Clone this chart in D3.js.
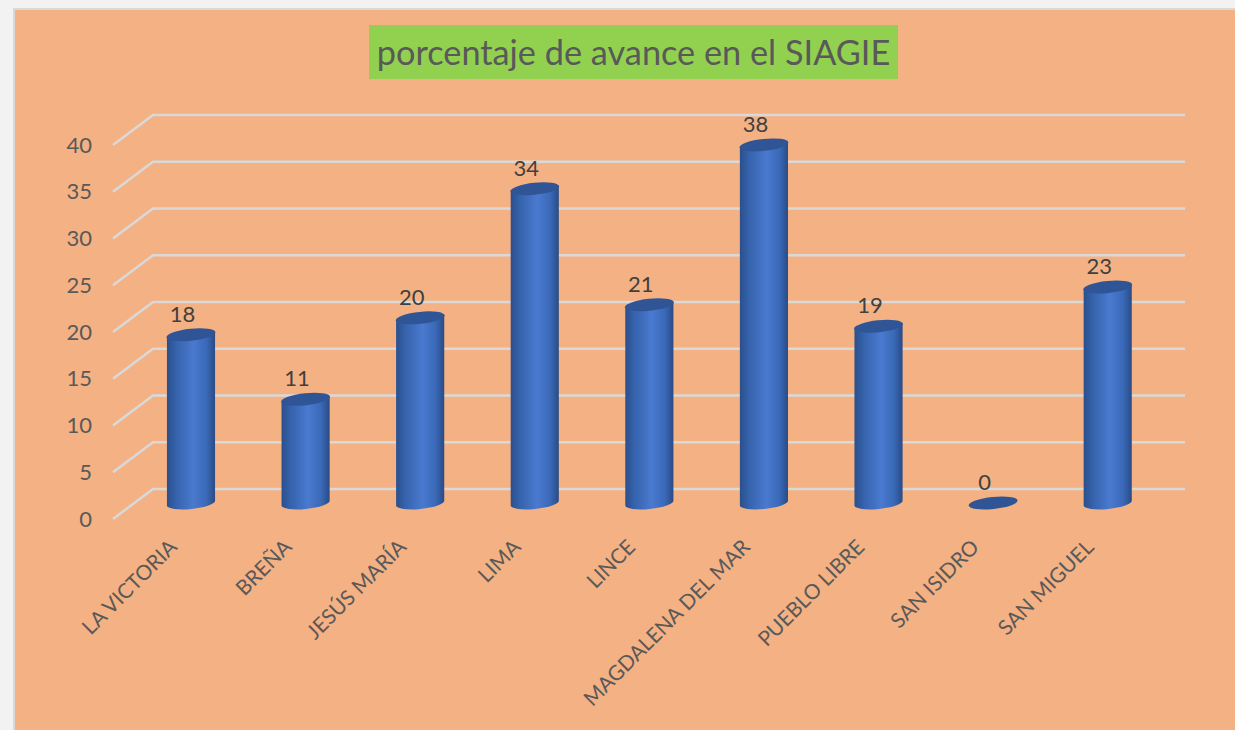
<!DOCTYPE html>
<html lang="es">
<head>
<meta charset="UTF-8">
<title>porcentaje de avance en el SIAGIE</title>
<script src="https://d3js.org/d3.v7.min.js"></script>
<style>
    html, body { margin: 0; padding: 0; background: #f2f2f2; overflow: hidden; }
    svg { display: block; }
    text { font-family: Lato, sans-serif; }
    .axis path.domain, .axis line { display: none; }
    .axis text { font-family: Lato, sans-serif; fill: #595959; }
</style>
</head>
<body>
<svg width="1235" height="730"></svg>
<script>
const chartTitle = "porcentaje de avance en el SIAGIE";
const categories = ["LA VICTORIA", "BREÑA", "JESÚS MARÍA", "LIMA", "LINCE", "MAGDALENA DEL MAR", "PUEBLO LIBRE", "SAN ISIDRO", "SAN MIGUEL"];
const values = [18, 11.1, 19.8, 33.6, 21.2, 38.3, 18.9, 0, 23.1];
const yTicks = [0, 5, 10, 15, 20, 25, 30, 35, 40];

const svg = d3.select("svg");

// panel
svg.append("rect")
    .attr("x", 14).attr("y", 9)
    .attr("width", 1240).attr("height", 740)
    .attr("fill", "#f4b183")
    .attr("stroke", "#d9d9d9")
    .attr("stroke-width", 2);

// title
svg.append("rect")
    .attr("x", 369).attr("y", 25)
    .attr("width", 529).attr("height", 54)
    .attr("fill", "#92d050");

svg.append("text")
    .attr("x", 633.5).attr("y", 65)
    .attr("text-anchor", "middle")
    .attr("font-size", 34.3)
    .attr("fill", "#595959")
    .text(chartTitle);

// y is the back wall, the floor comes forward and down from it
const y = d3.scaleLinear().domain([0, 40]).range([489, 115]);
const x = d3.scaleBand().domain(categories).range([133.7, 1165]);

const depthX = 40, depthY = 30;
const wallLeft = 153, wallRight = 1185;

const gridLine = d3.line();
svg.append("g")
    .selectAll("path")
    .data(yTicks)
    .join("path")
    .attr("fill", "none")
    .attr("stroke", "#d9d9d9")
    .attr("stroke-width", 2.5)
    .attr("d", d => gridLine([
        [wallLeft - depthX, y(d) + depthY],
        [wallLeft, y(d)],
        [wallRight, y(d)]
    ]));

// axes
svg.append("g")
    .attr("class", "axis")
    .attr("transform", "translate(92,30)")
    .call(d3.axisLeft(y).tickValues(yTicks).tickSize(0).tickPadding(0))
    .selectAll("text")
    .style("font-size", "22px");

svg.append("g")
    .attr("class", "axis")
    .attr("transform", "translate(0,530)")
    .call(d3.axisBottom(x).tickSize(0).tickPadding(0))
    .selectAll("text")
    .style("font-size", "20.8px")
    .attr("text-anchor", "end")
    .attr("dx", -22)
    .attr("dy", 4)
    .attr("transform", "rotate(-45)");

// cylinders
const defs = svg.append("defs");
const grad = defs.append("linearGradient").attr("id", "cyl");
grad.append("stop").attr("offset", "0%").attr("stop-color", "#2b4f8c");
grad.append("stop").attr("offset", "18%").attr("stop-color", "#3562ab");
grad.append("stop").attr("offset", "55%").attr("stop-color", "#4a7ad0");
grad.append("stop").attr("offset", "82%").attr("stop-color", "#3a69b8");
grad.append("stop").attr("offset", "100%").attr("stop-color", "#2a4b85");

const barW = x.bandwidth() * 0.42;
const rx = barW / 2, ry = 6, tilt = -6;
const floorShift = 14;  // ellipse centre sits this far under the wall position
const rise = rx * Math.sin(tilt * Math.PI / 180) * -1;

const bars = svg.append("g")
    .selectAll("g")
    .data(categories.map((c, i) => ({ c, v: values[i] })))
    .join("g")
    .attr("transform", d => `translate(${x(d.c) + x.bandwidth() / 2},0)`);

bars.filter(d => d.v > 0).append("path")
    .attr("fill", "url(#cyl)")
    .attr("d", d => {
        const base = y(0) + floorShift, top = y(d.v) + floorShift;
        return `M${-rx},${base + rise} A${rx},${ry} ${tilt} 0 0 ${rx},${base - rise}` +
            ` L${rx},${top - rise} L${-rx},${top + rise} Z`;
    });

bars.append("ellipse")
    .attr("rx", rx + 0.5)
    .attr("ry", ry)
    .attr("fill", "#2f5597")
    .attr("transform", d => `translate(0,${y(d.v) + floorShift}) rotate(${tilt})`);

// value labels
bars.append("text")
    .attr("x", -8.5)
    .attr("y", d => y(d.v) + floorShift - 13)
    .attr("text-anchor", "middle")
    .attr("font-size", 22)
    .attr("fill", "#404040")
    .text(d => d3.format(".0f")(d.v));
</script>
</body>
</html>
